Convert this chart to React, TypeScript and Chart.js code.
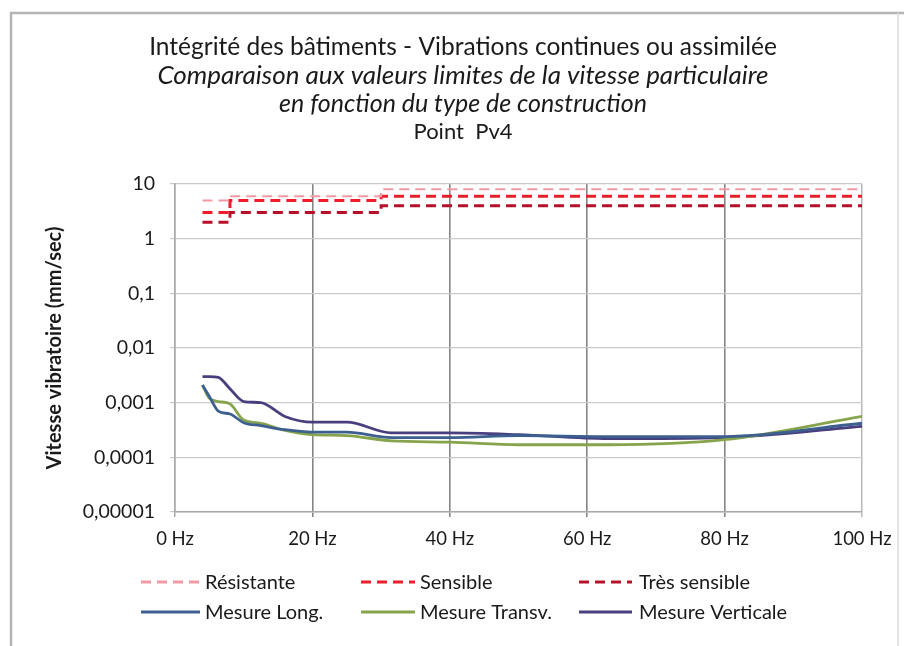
import React, { useEffect, useRef } from "react";
import { Chart, registerables } from "chart.js";

Chart.register(...registerables);

// ---- Data ----
const freqs = [4, 5, 6.3, 8, 10, 12.5, 16, 20, 25, 31.5, 40, 50, 63, 80, 100];
const mesureLong = [0.0021, 0.0013, 0.0007, 0.00062, 0.00043, 0.00038, 0.00032, 0.00029, 0.00029, 0.00023, 0.00023, 0.00025, 0.00024, 0.00024, 0.00042];
const mesureTransv = [0.0021, 0.0012, 0.00105, 0.00095, 0.00048, 0.00042, 0.00031, 0.00026, 0.00025, 0.0002, 0.00019, 0.00017, 0.00017, 0.00021, 0.00056];
const mesureVerticale = [0.003, 0.003, 0.0029, 0.0018, 0.00105, 0.001, 0.00056, 0.00044, 0.00044, 0.00028, 0.00028, 0.00026, 0.00022, 0.00023, 0.00037];

const limitFreqs = [4, 8, 8, 30, 30, 100];
const limitResistante = [5, 5, 6, 6, 8, 8];
const limitSensible = [3, 3, 5, 5, 6, 6];
const limitTresSensible = [2, 2, 3, 3, 4, 4];

const xTicks = [0, 20, 40, 60, 80, 100];
const yTickValues = [10, 1, 0.1, 0.01, 0.001, 0.0001, 0.00001];
const yTickLabels = ["10", "1", "0,1", "0,01", "0,001", "0,0001", "0,00001"];

const titleLines = [
  "Intégrité des bâtiments - Vibrations continues ou assimilée",
  "Comparaison aux valeurs limites de la vitesse particulaire",
  "en fonction du type de construction",
  "Point  Pv4",
];
const yAxisTitle = "Vitesse vibratoire (mm/sec)";

const FONT = "Lato, 'Noto Sans', sans-serif";

const toPts = (xs: number[], ys: number[]) => xs.map((x, i) => ({ x, y: ys[i] }));

const customPlugin = {
  id: "customDecor",
  beforeDraw(chart: any) {
    const ctx = chart.ctx;
    ctx.save();
    ctx.fillStyle = "#ffffff";
    ctx.fillRect(0, 0, chart.width, chart.height);
    ctx.strokeStyle = "#b4b4b4";
    ctx.lineWidth = 2.5;
    ctx.beginPath();
    ctx.moveTo(11, 660);
    ctx.lineTo(11, 13);
    ctx.lineTo(904, 13);
    ctx.stroke();
    ctx.strokeStyle = "#dcdcdc";
    ctx.lineWidth = 1.5;
    ctx.beginPath();
    ctx.moveTo(898, 13);
    ctx.lineTo(898, 660);
    ctx.stroke();
    ctx.restore();
  },
  afterDraw(chart: any) {
    const ctx = chart.ctx;
    ctx.save();
    ctx.fillStyle = "#1a1a1a";
    ctx.textAlign = "center";
    ctx.textBaseline = "middle";
    const cx = 463;
    const fonts = [
      `normal 24.5px ${FONT}`,
      `italic 26px ${FONT}`,
      `italic 25px ${FONT}`,
      `normal 22px ${FONT}`,
    ];
    const ys = [47, 76, 104, 132];
    titleLines.forEach((t, i) => {
      ctx.font = fonts[i];
      ctx.fillText(t, cx, ys[i]);
    });

    // Legend
    const rows = [582, 612];
    const cols = [
      [141, 200, 205],
      [361, 415, 420],
      [579, 632, 639],
    ];
    ctx.textAlign = "left";
    ctx.font = `normal 20px ${FONT}`;
    chart.data.datasets.forEach((ds: any, i: number) => {
      const r = Math.floor(i / 3);
      const c = i % 3;
      const y = rows[r];
      const [x0, x1, tx] = cols[c];
      ctx.save();
      ctx.strokeStyle = ds.borderColor;
      ctx.lineWidth = 3;
      ctx.setLineDash(ds.borderDash || []);
      ctx.beginPath();
      ctx.moveTo(x0, y);
      ctx.lineTo(x1, y);
      ctx.stroke();
      ctx.restore();
      ctx.fillStyle = "#1a1a1a";
      ctx.fillText(ds.label, tx, y + 1);
    });
    ctx.restore();
  },
};

export default function App() {
  const ref = useRef<HTMLCanvasElement | null>(null);
  useEffect(() => {
    if (!ref.current) return;
    const chart = new Chart(ref.current, {
      type: "line",
      data: {
        datasets: [
          {
            label: "Résistante",
            data: toPts(limitFreqs, limitResistante),
            borderColor: "#f29aa4",
            borderWidth: 2,
            borderDash: [10, 6],
            pointRadius: 0,
            tension: 0,
          },
          {
            label: "Sensible",
            data: toPts(limitFreqs, limitSensible),
            borderColor: "#f01c2c",
            borderWidth: 3,
            borderDash: [10, 6],
            pointRadius: 0,
            tension: 0,
          },
          {
            label: "Très sensible",
            data: toPts(limitFreqs, limitTresSensible),
            borderColor: "#b8102a",
            borderWidth: 3,
            borderDash: [10, 6],
            pointRadius: 0,
            tension: 0,
          },
          {
            label: "Mesure Long.",
            data: toPts(freqs, mesureLong),
            borderColor: "#3d5f90",
            borderWidth: 2.8,
            pointRadius: 0,
            cubicInterpolationMode: "monotone",
          },
          {
            label: "Mesure Transv.",
            data: toPts(freqs, mesureTransv),
            borderColor: "#86a44c",
            borderWidth: 2.8,
            pointRadius: 0,
            cubicInterpolationMode: "monotone",
          },
          {
            label: "Mesure Verticale",
            data: toPts(freqs, mesureVerticale),
            borderColor: "#4a3f7e",
            borderWidth: 2.8,
            pointRadius: 0,
            cubicInterpolationMode: "monotone",
          },
        ],
      },
      options: {
        responsive: false,
        animation: false,
        layout: { padding: { left: 20, right: 42, top: 184, bottom: 94 } },
        plugins: {
          legend: { display: false },
          title: { display: false },
          tooltip: { enabled: false },
        },
        scales: {
          x: {
            type: "linear",
            min: 0,
            max: 100,
            afterBuildTicks: (s: any) => {
              s.ticks = xTicks.map((v) => ({ value: v }));
            },
            afterFit: (s: any) => {
              s.height = 40;
            },
            ticks: {
              callback: (v: any) => `${v} Hz`,
              color: "#1a1a1a",
              font: { family: FONT, size: 18.5 },
              padding: 11,
              maxRotation: 0,
            },
            grid: {
              color: (c: any) => {
                const v = c.tick?.value;
                if (v === 100) return "#b8b8b8";
                if (v === 0) return "#a8a8a8";
                return "#858585";
              },
              lineWidth: (c: any) => (c.tick?.value === 0 || c.tick?.value === 100 ? 1.5 : 1.6),
              tickLength: 5,
            },
            border: { display: true, color: "#a8a8a8", width: 1.5 },
          },
          y: {
            type: "logarithmic",
            min: 0.00001,
            max: 10,
            afterBuildTicks: (s: any) => {
              s.ticks = yTickValues.map((v) => ({ value: v }));
            },
            afterFit: (s: any) => {
              s.width = 155;
            },
            ticks: {
              callback: (v: any) => {
                const i = yTickValues.findIndex((t) => Math.abs(t - v) / t < 1e-6);
                return i >= 0 ? yTickLabels[i] : "";
              },
              color: "#1a1a1a",
              font: { family: FONT, size: 19.5 },
              padding: 15,
            },
            grid: {
              color: "#cacaca",
              lineWidth: 1.2,
              tickLength: 5,
            },
            border: { display: true, color: "#a8a8a8", width: 1.5 },
            title: {
              display: true,
              text: yAxisTitle,
              color: "#1a1a1a",
              font: { family: FONT, size: 20, weight: "bold" },
              padding: { top: 23, bottom: 0 },
            },
          },
        },
      },
      plugins: [customPlugin],
    } as any);
    return () => chart.destroy();
  }, []);
  return (
    <div style={{ position: "fixed", left: 0, top: 0, width: 904, height: 646 }}>
      <canvas ref={ref} width={904} height={646} />
    </div>
  );
}
